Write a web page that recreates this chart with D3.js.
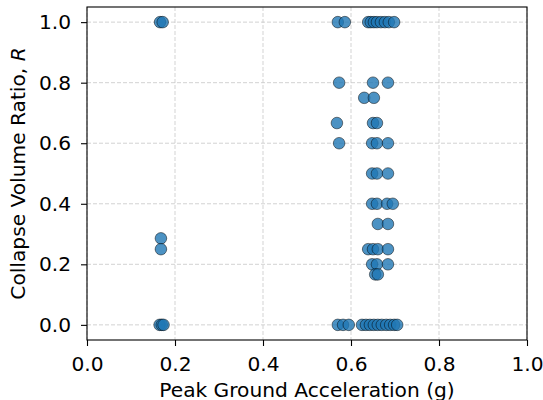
<!DOCTYPE html>
<html>
<head>
<meta charset="utf-8">
<script src="https://cdn.jsdelivr.net/npm/d3@7"></script>
<style>
  body { margin: 0; background: #fff; }
  svg { display: block; }
  text { font-family: "DejaVu Sans", sans-serif; }
</style>
</head>
<body>
<svg id="chart" width="543" height="400"></svg>
<script>
// Peak ground acceleration (g) for each record.
var pga = [
  // low PGA group
  0.166, 0.172, 0.168, 0.168, 0.165, 0.170, 0.174,
  // ~0.57-0.59 group
  0.570, 0.586, 0.573, 0.568, 0.573, 0.570, 0.582, 0.595,
  // main group, R = 1
  0.639, 0.645, 0.652, 0.659, 0.668, 0.677, 0.686, 0.698,
  // R = 0.8, 0.75, 0.667, 0.6
  0.650, 0.684, 0.630, 0.652, 0.650, 0.659, 0.648, 0.659, 0.684,
  // R = 0.5, 0.4, 0.333
  0.648, 0.659, 0.684, 0.648, 0.659, 0.682, 0.695, 0.661, 0.684,
  // R = 0.25, 0.2, 0.167
  0.639, 0.650, 0.661, 0.684, 0.648, 0.659, 0.684, 0.655, 0.661,
  // main group, R = 0
  0.625, 0.634, 0.643, 0.652, 0.661, 0.670, 0.680, 0.689, 0.698, 0.705
];

// Collapse volume ratio R for the same records.
var ratio = [
  1, 1, 0.2857, 0.25, 0, 0, 0,
  1, 1, 0.8, 0.6667, 0.6, 0, 0, 0,
  1, 1, 1, 1, 1, 1, 1, 1,
  0.8, 0.8, 0.75, 0.75, 0.6667, 0.6667, 0.6, 0.6, 0.6,
  0.5, 0.5, 0.5, 0.4, 0.4, 0.4, 0.4, 0.3333, 0.3333,
  0.25, 0.25, 0.25, 0.25, 0.2, 0.2, 0.2, 0.1667, 0.1667,
  0, 0, 0, 0, 0, 0, 0, 0, 0, 0
];

var xTicks = [0, 0.2, 0.4, 0.6, 0.8, 1.0];
var yTicks = [0, 0.2, 0.4, 0.6, 0.8, 1.0];

var points = pga.map(function(d, i) { return {x: d, y: ratio[i]}; });

var svg = d3.select("#chart");
var plotL = 87, plotR = 527, plotT = 7, plotB = 340;
var fontSize = "20.2px";

var x = d3.scaleLinear().domain([0, 1]).range([plotL, plotR]);
var y = d3.scaleLinear().domain([-0.05, 1.05]).range([plotB, plotT]);

// grid
var grid = svg.append("g");
grid.selectAll(".gx").data(xTicks).enter().append("line")
    .attr("x1", function(d) { return x(d); })
    .attr("x2", function(d) { return x(d); })
    .attr("y1", plotT).attr("y2", plotB)
    .attr("stroke", "#c8c8c8").attr("stroke-width", 0.8)
    .attr("stroke-dasharray", "4,2");
grid.selectAll(".gy").data(yTicks).enter().append("line")
    .attr("y1", function(d) { return y(d); })
    .attr("y2", function(d) { return y(d); })
    .attr("x1", plotL).attr("x2", plotR)
    .attr("stroke", "#c8c8c8").attr("stroke-width", 0.8)
    .attr("stroke-dasharray", "4,2");

// points
svg.append("g").selectAll("circle")
    .data(points)
  .enter().append("circle")
    .attr("cx", function(d) { return x(d.x); })
    .attr("cy", function(d) { return y(d.y); })
    .attr("r", 5.8)
    .attr("fill", "#1f77b4")
    .attr("fill-opacity", 0.8)
    .attr("stroke", "#000")
    .attr("stroke-opacity", 0.8)
    .attr("stroke-width", 0.6);

// axes
var xAxis = d3.axisBottom(x).tickValues(xTicks).tickFormat(d3.format(".1f"))
    .tickSizeInner(6).tickSizeOuter(0).tickPadding(10);
var yAxis = d3.axisLeft(y).tickValues(yTicks).tickFormat(d3.format(".1f"))
    .tickSizeInner(6).tickSizeOuter(0).tickPadding(10);

var gx = svg.append("g").attr("transform", "translate(0," + plotB + ")").call(xAxis);
var gy = svg.append("g").attr("transform", "translate(" + plotL + ",0)").call(yAxis);
[gx, gy].forEach(function(g) {
  g.attr("font-size", null).attr("font-family", null);
  g.select(".domain").remove();
  g.selectAll(".tick line").attr("stroke", "#000").attr("stroke-width", 1.1);
  g.selectAll(".tick text").attr("fill", "#000").style("font-size", fontSize);
});
gx.selectAll(".tick text").attr("dy", "0.73em");

// frame
svg.append("rect")
    .attr("x", plotL).attr("y", plotT)
    .attr("width", plotR - plotL).attr("height", plotB - plotT)
    .attr("fill", "none").attr("stroke", "#000").attr("stroke-width", 1.1);

// labels
svg.append("text")
    .attr("x", (plotL + plotR) / 2).attr("y", 397)
    .attr("text-anchor", "middle")
    .style("font-size", fontSize)
    .text("Peak Ground Acceleration (g)");

var yl = svg.append("text")
    .attr("transform", "translate(25," + ((plotT + plotB) / 2) + ") rotate(-90)")
    .attr("text-anchor", "middle")
    .style("font-size", fontSize);
yl.append("tspan").text("Collapse Volume Ratio, ");
yl.append("tspan").style("font-style", "italic").text("R");
</script>
</body>
</html>
